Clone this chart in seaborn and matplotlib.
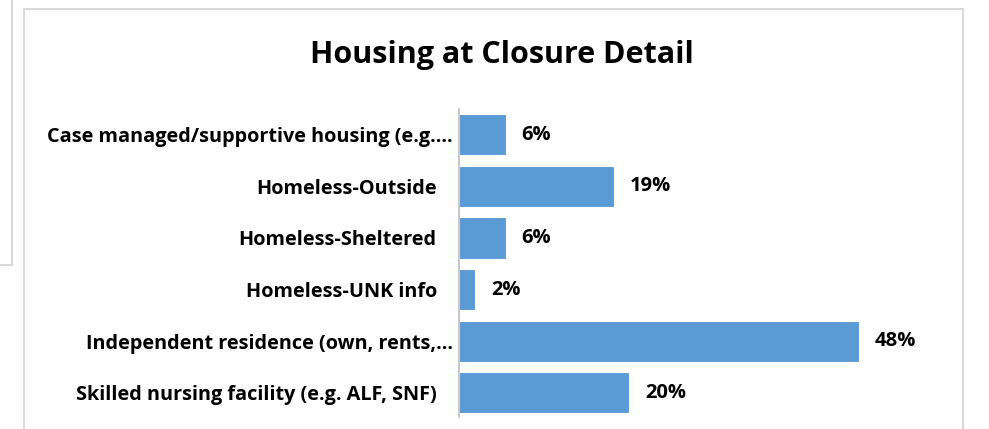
import matplotlib
matplotlib.use("Agg")
import matplotlib.pyplot as plt
import matplotlib.transforms as mtransforms
from matplotlib.patches import Rectangle
from matplotlib.lines import Line2D
import seaborn as sns
import pandas as pd

# data
categories = [
    "Case managed/supportive housing (e.g.\u2026",
    "Homeless-Outside",
    "Homeless-Sheltered",
    "Homeless-UNK info",
    "Independent residence (own, rents,\u2026",
    "Skilled nursing facility (e.g. ALF, SNF)",
]
shares = [0.056, 0.186, 0.056, 0.019, 0.480, 0.204]
title = "Housing at Closure Detail"

df = pd.DataFrame({"category": categories, "share": shares})

sns.set_theme(style="white")
plt.rcParams["font.family"] = ["Open Sans", "DejaVu Sans"]

W, H = 989, 429
fig = plt.figure(figsize=(W / 100, H / 100), dpi=100)

# chart frames (Excel chart area + the edge of another box on the left)
fig.patches.append(Rectangle((24 / W, -0.2), (963 - 24) / W, 1.2 - 9 / H,
                             transform=fig.transFigure, fill=False,
                             edgecolor="#d9d9d9", linewidth=1.5))
fig.lines.append(Line2D([12 / W, 12 / W], [1.0, 1 - 265 / H], transform=fig.transFigure,
                        color="#d9d9d9", linewidth=1.5))
fig.lines.append(Line2D([0, 12 / W], [1 - 265 / H, 1 - 265 / H], transform=fig.transFigure,
                        color="#d9d9d9", linewidth=1.5))

ax = fig.add_axes([459 / W, 1 - 417 / H, 500 / W, (417 - 109) / H])
sns.barplot(data=df, x="share", y="category", color="#5B9BD5", saturation=1,
            width=0.8, edgecolor="white", linewidth=0.8, ax=ax, orient="h")

ax.set_xlim(0, 0.6)
ax.set_ylim(5.47, -0.5)
ax.set_xlabel("")
ax.set_ylabel("")
ax.set_xticks([])
for s in ["top", "right", "bottom"]:
    ax.spines[s].set_visible(False)
ax.spines["left"].set_color("#bfbfbf")
ax.spines["left"].set_linewidth(1.2)

ax.tick_params(axis="y", length=0, pad=16)
for lbl in ax.get_yticklabels():
    lbl.set_fontweight("bold")
    lbl.set_fontsize(14.3)
    lbl.set_color("black")
    if lbl.get_text().endswith("\u2026"):
        lbl.set_transform(lbl.get_transform() +
                          mtransforms.ScaledTranslation(16 / 100, 0, fig.dpi_scale_trans))

ax.bar_label(ax.containers[0], labels=[f"{v:.0%}" for v in shares], padding=11.5,
             fontsize=14.5, fontweight="bold", color="black")

fig.text(502 / W, 1 - 55 / H, title, ha="center", va="center",
         fontsize=22, fontweight="bold", color="black")

fig.savefig("out.png", dpi=100, facecolor="white")
